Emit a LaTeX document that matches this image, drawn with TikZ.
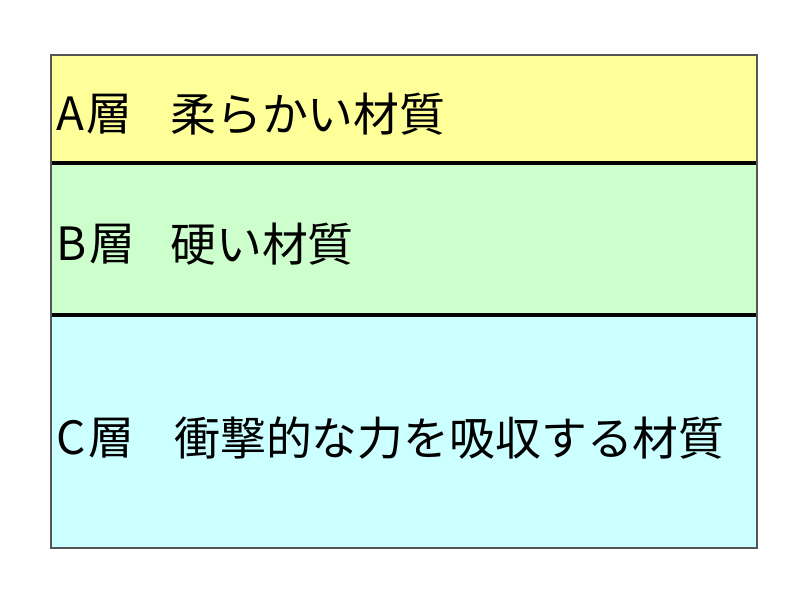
\documentclass[tikz,border=0pt]{standalone}
\usepackage{fontspec}
\setmainfont{Noto Sans CJK JP}
\definecolor{layA}{HTML}{FFFF99}
\definecolor{layB}{HTML}{CCFFCC}
\definecolor{layC}{HTML}{CCFFFF}
\definecolor{frame}{HTML}{555555}
\begin{document}
\begin{tikzpicture}[x=0.75pt,y=-0.75pt,
  lbl/.style={anchor=west, inner sep=0pt, font=\fontsize{34.4}{34.4}\selectfont, text=black},
  divider/.style={line width=3pt, black}]
\useasboundingbox (0,0) rectangle (800,600);
\fill[white] (0,0) rectangle (800,600);
\fill[layA] (51,55) rectangle (757,163);
\fill[layB] (51,163) rectangle (757,315);
\fill[layC] (51,315) rectangle (757,548);
\coordinate (d1l) at (51,163); \coordinate (d1r) at (757,163);
\coordinate (d2l) at (51,315); \coordinate (d2r) at (757,315);
\draw[divider] (d1l) -- (d1r);
\draw[divider] (d2l) -- (d2r);
\draw[frame, line width=1.5pt] (51,55) rectangle (757,548);
\node[lbl] (ka) at (56,114) {A\hspace{2pt}層};
\node[lbl] (ta) at (170,114) {柔らかい材質};
\node[lbl] (kb) at (56,244) {B\hspace{2pt}層};
\node[lbl] (tb) at (170,244) {硬い材質};
\node[lbl] (kc) at (56,438) {C\hspace{2pt}層};
\node[lbl] (tc) at (174,438) {衝撃的な力を吸収する材質};
\end{tikzpicture}
\end{document}
